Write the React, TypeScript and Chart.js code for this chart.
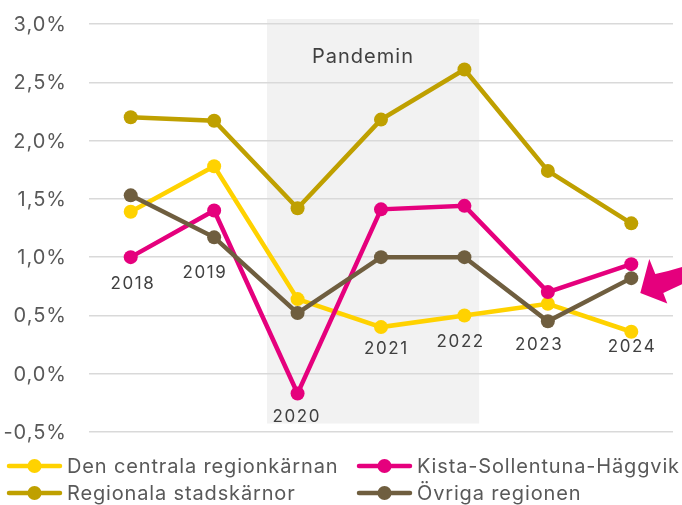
import React, { useEffect, useRef } from "react";
import { Chart, registerables } from "chart.js";

Chart.register(...registerables);

const categories = ["2018", "2019", "2020", "2021", "2022", "2023", "2024"];
const denCentrala = [1.39, 1.78, 0.64, 0.40, 0.50, 0.60, 0.36];
const kista = [1.00, 1.40, -0.17, 1.41, 1.44, 0.70, 0.94];
const regionala = [2.20, 2.17, 1.42, 2.18, 2.61, 1.74, 1.29];
const ovriga = [1.53, 1.17, 0.52, 1.00, 1.00, 0.45, 0.82];

const seriesNames = [
  "Den centrala regionkärnan",
  "Kista-Sollentuna-Häggvik",
  "Regionala stadskärnor",
  "Övriga regionen",
];
const seriesColors = ["#FFD200", "#E5007D", "#BFA000", "#6F5E3F"];
const pandemicLabel = "Pandemin";

// annotation placement for year labels (dx pixels, y in axis units)
const yearLabelDx = [1.5, -10, -1.5, 4.5, -4.5, -9.5, 0];
const yearLabelY = [0.768, 0.862, -0.367, 0.217, 0.269, 0.243, 0.226];

const FONT = "Inter, 'Noto Sans', sans-serif";

const fmt = (v: number) => v.toFixed(1).replace(".", ",") + "%";

const overlayPlugin = {
  id: "overlay",
  beforeDraw(chart: any) {
    const { ctx, chartArea, scales } = chart;
    const x = scales.x;
    const step = x.getPixelForValue(1) - x.getPixelForValue(0);
    const left = x.getPixelForValue(2) - 0.367 * step;
    const right = x.getPixelForValue(4) + 0.177 * step;
    const top = chartArea.top - 5;
    const bottom = chartArea.bottom - 8.5;
    ctx.save();
    ctx.fillStyle = "#F2F2F2";
    ctx.fillRect(left, top, right - left, bottom - top);
    ctx.restore();
  },
  afterDraw(chart: any) {
    const { ctx, chartArea, scales } = chart;
    const x = scales.x;
    const y = scales.y;
    ctx.save();

    // y tick labels
    ctx.font = `20px ${FONT}`;
    ctx.fillStyle = "#595959";
    ctx.textAlign = "left";
    ctx.textBaseline = "middle";
    (ctx as any).letterSpacing = "1px";
    y.ticks.forEach((t: any) => {
      const s = fmt(t.value);
      const w = ctx.measureText(s).width - 1;
      ctx.fillText(s, chartArea.left - 23 - w, y.getPixelForValue(t.value) + 1);
    });

    // Pandemin label
    ctx.textAlign = "center";
    ctx.fillStyle = "#404040";
    ctx.fillText(pandemicLabel, x.getPixelForValue(3) - 18, chartArea.top + 33);

    // year labels
    ctx.font = `17px ${FONT}`;
    (ctx as any).letterSpacing = "1.6px";
    categories.forEach((c, i) => {
      ctx.fillText(c, x.getPixelForValue(i) + yearLabelDx[i] + 0.8, y.getPixelForValue(yearLabelY[i]));
    });

    // arrow
    const ax = x.getPixelForValue(categories.length - 1);
    ctx.fillStyle = "#E5007D";
    ctx.beginPath();
    ctx.moveTo(ax + 18, 259);
    ctx.lineTo(ax + 24, 274);
    ctx.quadraticCurveTo(ax + 40, 271, ax + 60, 264);
    ctx.lineTo(ax + 60, 280);
    ctx.quadraticCurveTo(ax + 45, 287, ax + 32, 293);
    ctx.lineTo(ax + 36, 303.5);
    ctx.lineTo(ax + 9, 293);
    ctx.closePath();
    ctx.fill();

    // legend
    const cols = [7, 357];
    const rows = [466, 493];
    ctx.font = `20px ${FONT}`;
    (ctx as any).letterSpacing = "0.85px";
    ctx.textAlign = "left";
    ctx.textBaseline = "middle";
    seriesNames.forEach((name, i) => {
      const lx = cols[i % 2];
      const ly = rows[Math.floor(i / 2)];
      ctx.strokeStyle = seriesColors[i];
      ctx.lineWidth = 4.5;
      ctx.lineCap = "round";
      ctx.beginPath();
      ctx.moveTo(lx + 2, ly);
      ctx.lineTo(lx + 53, ly);
      ctx.stroke();
      ctx.fillStyle = seriesColors[i];
      ctx.beginPath();
      ctx.arc(lx + 27.5, ly, 7, 0, Math.PI * 2);
      ctx.fill();
      ctx.fillStyle = "#595959";
      ctx.fillText(name, lx + 60, ly + 1);
    });
    ctx.restore();
  },
};

export default function App() {
  const ref = useRef<HTMLCanvasElement>(null);
  useEffect(() => {
    if (!ref.current) return;
    const seriesData = [denCentrala, kista, regionala, ovriga];
    const orders = [3, 2, 1, 0];
    const chart = new Chart(ref.current, {
      type: "line",
      data: {
        labels: categories,
        datasets: seriesData.map((d, i) => ({
          label: seriesNames[i],
          data: d,
          borderColor: seriesColors[i],
          backgroundColor: seriesColors[i],
          pointBackgroundColor: seriesColors[i],
          pointBorderWidth: 0,
          pointRadius: 7,
          borderWidth: 4.5,
          tension: 0,
          order: orders[i],
        })),
      },
      options: {
        animation: false,
        responsive: true,
        maintainAspectRatio: false,
        layout: { padding: { left: 7, right: 9, top: 24, bottom: 73 } },
        plugins: { legend: { display: false }, tooltip: { enabled: false } },
        scales: {
          x: {
            display: false,
            offset: true,
          },
          y: {
            min: -0.5,
            max: 3.0,
            afterFit(scale: any) {
              scale.width = 82;
            },
            ticks: {
              display: false,
              stepSize: 0.5,
            },
            grid: { color: "#D9D9D9", lineWidth: 1.5, drawTicks: false },
            border: { display: false },
          },
        },
      },
      plugins: [overlayPlugin],
    });
    return () => chart.destroy();
  }, []);
  return (
    <div style={{ position: "absolute", left: 0, top: 0, width: 682, height: 505 }}>
      <canvas ref={ref} />
    </div>
  );
}
